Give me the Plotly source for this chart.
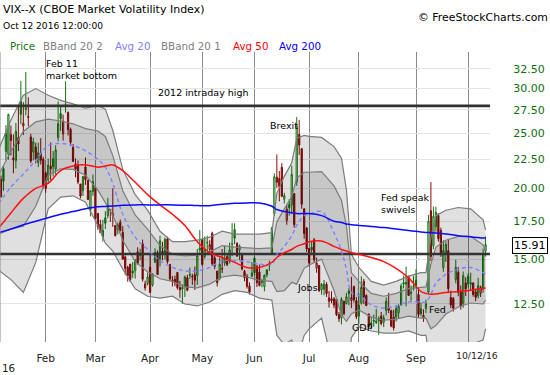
import math
import plotly.graph_objects as go

# ---------------- data (trading-day index 0 = Jan 4 2016 ... 196 = Oct 12 2016) -------------
prev_close_before = 18.21

opens = [
    22.48, 20.75, 21.67, 23.22, 22.96, 24.88, 22.63, 22.38, 24.58, 28.49, 25.76, 27.72, 26.79, 24.65, 23.18, 23.66, 22.23, 23.07, 22.51,
    21.28, 20.68, 21.88, 22.56, 21.63, 24.59, 27.12, 24.95, 28.13, 27.22, 25.43, 23.63, 22.09, 21.93, 20.35, 19.81, 21.81, 20.67, 18.35, 19.74,
    20.08, 18.06, 17.27, 16.42, 17.74, 17.90, 18.31, 17.90, 17.19, 17.24, 17.41, 16.72, 15.14, 14.51, 14.70, 14.29, 14.31, 15.45, 15.30, 15.96, 13.34, 13.58,
    14.52, 13.50, 14.81, 15.41, 15.00, 15.49, 15.30, 16.28, 14.68, 13.77, 13.82, 14.21, 13.36, 13.38, 13.44, 13.90, 14.05, 13.99, 14.08, 14.04, 15.55,
    16.25, 15.15, 16.03, 15.61, 16.67, 15.08, 14.29, 13.85, 14.43, 14.76, 15.15, 14.97, 15.94, 16.92, 15.98, 15.57, 15.27, 14.27, 13.98, 13.44, 14.00,
    15.06, 14.54, 14.24, 13.75, 13.42, 14.35, 14.72, 15.29, 18.05, 20.93, 20.83, 21.79, 19.13, 17.55, 18.73, 18.71, 19.58, 20.54, 24.90, 23.50, 18.41, 17.02,
    15.67, 15.74, 16.23, 14.46, 14.62, 13.25, 13.26, 13.54, 12.63, 12.77, 12.77, 12.75, 11.97, 11.83, 12.64, 12.53, 13.18, 12.68, 13.41, 12.67,
    11.90, 12.55, 13.70, 12.94, 12.00, 11.58, 11.70, 11.59, 11.77, 11.90, 11.61, 12.17, 12.30, 12.16, 11.85, 11.86, 12.06, 12.47, 13.55, 13.56, 13.97, 13.04, 13.36,
    13.77, 12.99, 12.26, 11.79, 12.27, 13.12, 18.26, 15.85, 17.11, 17.91, 16.86, 14.49, 15.39, 15.52, 12.83, 12.79, 13.80, 14.22, 13.17, 12.54, 13.61,
    14.01, 13.54, 13.61, 13.13, 12.92, 13.06, 13.27, 15.49]

highs = [
    23.36, 21.06, 21.86, 25.86, 27.08, 25.82, 24.90, 26.08, 27.85, 30.95, 28.39, 32.09, 28.96, 24.95, 24.56, 24.08, 24.09, 24.52, 22.73,
    21.42, 22.56, 24.11, 23.27, 23.83, 28.48, 28.00, 26.99, 30.90, 27.34, 25.60, 23.95, 22.59, 22.40, 20.36, 21.03, 22.69, 20.72, 19.83, 21.15,
    20.14, 18.06, 17.60, 17.60, 18.22, 19.24, 18.34, 20.00, 17.24, 17.39, 17.62, 17.14, 15.22, 14.60, 14.70, 14.83, 14.99, 15.74, 15.64, 16.24, 13.74, 14.20,
    15.33, 14.15, 15.67, 15.54, 16.49, 16.09, 16.37, 16.43, 14.69, 14.00, 14.03, 14.24, 13.73, 13.54, 14.03, 14.07, 14.49, 14.14, 14.55, 15.63, 16.88,
    16.25, 16.45, 16.50, 16.20, 16.77, 15.20, 14.29, 15.11, 15.63, 15.82, 15.27, 16.04, 17.36, 17.35, 16.07, 15.91, 15.30, 14.36, 14.12, 13.64, 14.82,
    15.19, 14.66, 14.67, 13.82, 14.09, 14.40, 14.91, 17.11, 21.25, 22.95, 21.46, 22.16, 19.64, 18.70, 19.15, 21.94, 19.59, 26.72, 26.42, 23.56, 18.42, 17.09,
    15.69, 16.16, 16.34, 15.09, 14.62, 13.61, 13.78, 13.66, 13.17, 13.16, 12.86, 12.76, 12.10, 12.85, 12.66, 13.07, 13.33, 13.96, 13.47, 12.86,
    13.06, 13.98, 13.84, 13.00, 12.02, 11.87, 11.97, 12.25, 11.88, 12.10, 11.96, 12.84, 13.08, 12.22, 12.21, 12.39, 12.49, 13.58, 14.03, 14.55, 14.03, 13.48, 14.00,
    14.40, 13.35, 12.57, 12.23, 12.72, 17.95, 20.51, 18.57, 18.56, 18.09, 17.05, 16.20, 16.12, 16.29, 13.20, 12.86, 14.96, 14.53, 13.48, 14.26, 13.93,
    14.17, 14.20, 13.66, 13.27, 13.90, 13.47, 15.65, 16.45]

lows = [
    20.67, 19.25, 19.80, 22.40, 22.48, 22.86, 21.26, 21.68, 23.27, 25.96, 24.84, 26.89, 25.73, 22.16, 22.41, 22.14, 21.81, 22.04, 19.97,
    19.64, 20.40, 20.68, 20.99, 21.14, 24.21, 25.25, 24.28, 27.19, 24.80, 23.75, 22.25, 20.92, 20.35, 19.20, 19.40, 20.28, 19.07, 17.84, 19.41,
    17.65, 16.89, 16.69, 16.11, 16.96, 17.71, 17.44, 17.10, 16.45, 16.59, 16.79, 14.99, 14.07, 13.68, 13.67, 13.90, 13.86, 14.66, 14.93, 13.69, 13.20, 13.48,
    13.10, 13.41, 14.78, 14.09, 14.56, 14.93, 14.98, 14.72, 13.76, 13.42, 13.44, 13.25, 12.82, 12.50, 12.86, 13.16, 13.84, 13.51, 13.23, 13.52, 15.29,
    14.60, 15.03, 15.50, 15.25, 14.60, 14.40, 13.42, 13.76, 14.17, 14.59, 14.58, 14.74, 15.18, 15.94, 15.13, 14.95, 14.33, 13.71, 13.31, 12.99, 13.93,
    14.04, 13.39, 13.43, 13.38, 13.16, 13.93, 14.30, 15.25, 17.87, 20.04, 18.97, 19.30, 18.80, 17.25, 17.90, 18.06, 17.04, 20.21, 22.91, 18.41, 16.29, 15.44,
    14.54, 15.24, 14.79, 14.19, 13.12, 12.98, 12.95, 12.86, 12.32, 12.54, 12.29, 11.90, 11.62, 11.50, 11.94, 12.47, 12.43, 12.29, 12.58, 11.75,
    11.54, 12.47, 12.49, 12.39, 11.32, 11.28, 11.40, 11.52, 11.02, 11.46, 11.38, 11.94, 12.05, 11.37, 11.22, 11.64, 11.79, 12.40, 13.31, 12.38, 12.91, 12.67, 13.20,
    13.35, 11.84, 11.90, 11.62, 12.04, 13.03, 14.88, 15.62, 16.77, 16.11, 15.14, 14.25, 14.83, 13.13, 12.29, 12.12, 13.59, 12.90, 12.22, 12.31, 12.91,
    13.37, 13.20, 12.88, 12.64, 12.79, 12.86, 13.09, 15.16]

closes = [
    20.70, 19.34, 20.59, 24.99, 27.01, 24.30, 22.47, 25.22, 23.95, 27.02, 26.05, 27.59, 26.69, 22.34, 24.15, 22.50, 23.11, 22.42, 20.20,
    19.98, 21.98, 21.65, 21.84, 23.38, 26.00, 26.54, 26.29, 28.14, 25.40, 24.11, 22.31, 21.64, 20.53, 19.38, 20.98, 20.72, 19.11, 19.81, 20.55,
    17.70, 17.09, 16.70, 16.86, 17.35, 18.67, 18.34, 18.05, 16.50, 16.92, 16.84, 14.99, 14.44, 14.02, 13.79, 14.17, 14.94, 14.74, 15.24, 13.82, 13.56, 13.95,
    13.10, 14.12, 15.42, 14.09, 16.16, 15.36, 16.26, 14.85, 13.84, 13.72, 13.62, 13.35, 13.24, 13.28, 13.95, 13.22, 14.08, 13.96, 13.77, 15.22, 15.70,
    14.68, 15.60, 16.05, 15.91, 14.72, 14.57, 13.63, 14.69, 14.41, 15.04, 14.68, 15.57, 15.95, 16.33, 15.20, 15.82, 14.42, 13.90, 13.43, 13.12, 14.19,
    14.20, 13.63, 13.47, 13.65, 14.05, 14.08, 14.64, 17.03, 20.97, 20.50, 20.14, 19.37, 19.41, 18.37, 18.48, 21.17, 17.25, 25.76, 23.85, 18.75, 16.64, 15.63,
    14.77, 15.58, 14.96, 14.76, 13.20, 13.54, 13.55, 13.04, 12.82, 12.67, 12.44, 11.97, 11.77, 12.74, 12.02, 12.87, 13.05, 12.83, 12.72, 11.87,
    12.44, 13.37, 12.86, 12.42, 11.39, 11.50, 11.66, 11.66, 11.68, 11.55, 11.81, 12.64, 12.19, 11.43, 11.34, 12.27, 12.38, 13.45, 13.63, 13.65, 12.94, 13.12, 13.42,
    13.48, 11.98, 12.02, 11.94, 12.51, 17.50, 15.16, 17.85, 18.14, 16.30, 15.37, 15.53, 15.92, 13.30, 12.45, 12.29, 14.50, 13.10, 12.39, 14.02, 13.29,
    13.57, 13.63, 12.99, 12.84, 13.48, 13.38, 15.36, 15.91]

month_tick_idx = [19, 39, 61, 82, 103, 125, 145, 168, 189]
month_tick_text = ["Feb", "Mar", "Apr", "May", "Jun", "Jul", "Aug", "Sep", ""]

# indicator lines at sample trading days
band_idx = [0, 5, 10, 15, 20, 25, 30, 35, 40, 43, 46, 50, 55, 60, 65, 70, 75, 80, 85, 90, 95, 100, 105, 110, 112, 115,
            118, 120, 123, 125, 130, 135, 138, 140, 142, 145, 150, 155, 160, 165, 170, 172, 174, 176, 180, 185, 190, 195, 196]
bband2_upper = [23.4, 26.4, 29.2, 30.0, 29.2, 28.6, 28.2, 27.7, 28.0, 27.6, 25.3, 21.6, 19.5, 18.3, 16.8, 16.1, 16.1, 16.2, 16.4, 16.8,
                16.6, 16.6, 16.6, 16.7, 19.6, 21.0, 22.2, 24.5, 24.8, 24.7, 24.6, 23.7, 22.6, 19.9, 15.3, 14.5, 13.7, 13.5, 13.7, 14.0,
                14.2, 14.2, 16.4, 17.9, 18.3, 18.5, 18.4, 17.6, 16.9]
bband1_upper = [21.1, 23.25, 25.2, 26.2, 26.5, 26.3, 26.0, 25.5, 25.25, 24.7, 22.85, 19.8, 17.95, 16.95, 15.85, 15.3, 15.2, 15.25, 15.45, 15.85,
                15.75, 15.7, 15.65, 15.7, 17.45, 18.4, 19.35, 20.85, 21.35, 21.35, 21.4, 20.2, 19.05, 17.15, 14.2, 13.7, 13.05, 12.9, 13.05, 13.3,
                13.4, 13.4, 14.7, 15.75, 16.2, 16.45, 16.45, 15.9, 15.5]
avg20 = [18.8, 20.1, 21.2, 22.4, 23.8, 24.0, 23.8, 23.3, 22.5, 21.8, 20.4, 18.0, 16.4, 15.6, 14.9, 14.5, 14.3, 14.3, 14.5, 14.9,
         14.9, 14.85, 14.7, 14.7, 15.3, 15.8, 16.5, 17.2, 17.9, 18.0, 18.2, 16.7, 15.5, 14.4, 13.1, 12.95, 12.45, 12.3, 12.4, 12.6,
         12.6, 12.6, 13.0, 13.6, 14.1, 14.4, 14.5, 14.2, 14.1]
bband1_lower = [16.6, 16.95, 17.15, 18.6, 21.1, 21.65, 21.6, 21.1, 19.85, 18.9, 17.95, 16.2, 14.85, 14.25, 13.85, 13.7, 13.4, 13.35, 13.55, 13.95,
                14.05, 13.95, 13.75, 13.7, 13.15, 13.2, 13.65, 13.55, 14.45, 14.65, 15.0, 13.2, 11.95, 11.65, 12.0, 12.2, 11.85, 11.7, 11.75, 11.9,
                11.8, 11.8, 11.3, 11.45, 12.0, 12.35, 12.55, 12.5, 12.7]
bband2_lower = [14.35, 13.8, 13.1, 14.8, 18.4, 19.3, 19.4, 18.9, 17.2, 16.0, 15.5, 14.4, 13.3, 12.9, 12.8, 12.9, 12.5, 12.4, 12.6, 13.0,
                13.2, 13.1, 12.8, 12.7, 11.0, 10.6, 10.8, 9.9, 11.0, 11.3, 11.8, 9.7, 8.4, 8.9, 10.9, 11.4, 11.2, 11.1, 11.1, 11.2,
                11.0, 11.0, 9.6, 9.3, 9.9, 10.3, 10.6, 10.8, 11.3]
avg50 = [17.0, 18.1, 19.2, 20.0, 20.4, 21.5, 21.9, 22.0, 21.8, 21.9, 22.0, 21.5, 20.5, 19.5, 18.7, 18.0, 17.2, 16.1, 15.4, 15.1,
         14.8, 14.5, 14.5, 14.8, 15.1, 15.4, 15.6, 15.8, 15.97, 16.1, 16.15, 15.8, 15.6, 15.5, 15.4, 15.3, 15.1, 14.85, 14.45, 13.9,
         13.15, 13.05, 13.0, 13.02, 13.1, 13.15, 13.22, 13.32, 13.34]
avg200 = [16.7, 16.95, 17.25, 17.5, 17.75, 18.0, 18.2, 18.4, 18.55, 18.58, 18.62, 18.68, 18.7, 18.7, 18.7, 18.7, 18.68, 18.65, 18.64, 18.75,
          18.82, 18.85, 18.85, 18.6, 18.35, 18.2, 18.1, 18.05, 18.05, 18.05, 17.9, 17.5, 17.4, 17.3, 17.25, 17.2, 17.13, 17.05, 16.95, 16.85,
          16.75, 16.72, 16.7, 16.68, 16.62, 16.5, 16.42, 16.35, 16.35]

level_2012_high = 27.96
level_support = 15.32

y_tick_vals = [12.5, 15, 17.5, 20, 22.5, 25, 27.5, 30, 32.5]
y_tick_text = ["12.50", "15.00", "17.50", "20.00", "22.50", "25.00", "27.50", "30.00", "32.50"]
last_price_text = "15.91"
last_date_text = "10/12/16"
year_text = "16"

# ---------------- styling / geometry ----------------
FONT = "DejaVu Sans"
GREEN = "#127812"
RED = "#8b0a0a"
BAND_LINE = "#7c7c7c"
PLOT_W, PLOT_TOP, PLOT_BOTTOM = 490.0, 52.0, 342.0
X_RANGE = [0.61, 197.77]
Y_RANGE = [math.log10(10.71), math.log10(34.81)]


def px(xp):
    return xp / PLOT_W


def py(yp):
    return (PLOT_BOTTOM - yp) / (PLOT_BOTTOM - PLOT_TOP)


fig = go.Figure()

x_all = list(range(len(closes)))

# Bollinger band fills
fig.add_trace(go.Scatter(x=band_idx, y=bband2_upper, mode="lines",
                         line=dict(color=BAND_LINE, width=1.2), hoverinfo="skip"))
fig.add_trace(go.Scatter(x=band_idx, y=bband2_lower, mode="lines", fill="tonexty",
                         fillcolor="rgba(0,0,0,0.12)",
                         line=dict(color=BAND_LINE, width=1.2), hoverinfo="skip"))
fig.add_trace(go.Scatter(x=band_idx, y=bband1_upper, mode="lines",
                         line=dict(color=BAND_LINE, width=1.2), hoverinfo="skip"))
fig.add_trace(go.Scatter(x=band_idx, y=bband1_lower, mode="lines", fill="tonexty",
                         fillcolor="rgba(0,0,0,0.11)",
                         line=dict(color=BAND_LINE, width=1.2), hoverinfo="skip"))

# horizontal reference levels
for lvl in (level_2012_high, level_support):
    fig.add_trace(go.Scatter(x=X_RANGE, y=[lvl, lvl], mode="lines",
                             line=dict(color="#333333", width=2.6), hoverinfo="skip"))

# candles: hollow when close > open, colour by change vs previous close
groups = {}
for i in x_all:
    prev = closes[i - 1] if i > 0 else prev_close_before
    colour = GREEN if closes[i] >= prev else RED
    hollow = closes[i] > opens[i]
    groups.setdefault((colour, hollow), []).append(i)

for (colour, hollow), idxs in groups.items():
    fill = "rgba(0,0,0,0)" if hollow else colour
    style = dict(line=dict(color=colour, width=1), fillcolor=fill)
    fig.add_trace(go.Candlestick(
        x=idxs,
        open=[opens[i] for i in idxs], high=[highs[i] for i in idxs],
        low=[lows[i] for i in idxs], close=[closes[i] for i in idxs],
        increasing=style, decreasing=style, whiskerwidth=0, hoverinfo="skip"))

# moving averages
fig.add_trace(go.Scatter(x=band_idx, y=avg20, mode="lines", line_shape="spline",
                         line=dict(color="#8080ff", width=1.4, dash="4px,3px"), hoverinfo="skip"))
fig.add_trace(go.Scatter(x=band_idx, y=avg50, mode="lines", line_shape="spline",
                         line=dict(color="#ff1010", width=1.5), hoverinfo="skip"))
fig.add_trace(go.Scatter(x=band_idx, y=avg200, mode="lines", line_shape="spline",
                         line=dict(color="#0a0aff", width=1.5), hoverinfo="skip"))

ann = []


def text(t, x, y, size, color="#000000", xanchor="left"):
    ann.append(dict(text=t, x=px(x), y=py(y), xref="paper", yref="paper",
                    xanchor=xanchor, yanchor="middle", align="left", showarrow=False,
                    font=dict(family=FONT, size=size, color=color)))


# header
text("VIX--X (CBOE Market Volatility Index)", 1, 10, 11.0)
text("Oct 12 2016 12:00:00", 1, 26, 9.1)
text("\u00a9 FreeStockCharts.com", 416, 17.5, 10.9)
legend_items = [("Price", 8, GREEN), ("BBand 20 2", 41, "#808080"), ("Avg 20", 113, "#8080ff"),
                ("BBand 20 1", 159, "#808080"), ("Avg 50", 231, "#ff0000"), ("Avg 200", 277, "#0000ff")]
for t, x, c in legend_items:
    text(t, x, 45.5, 10.3, c)

# chart notes
text("Feb 11<br>market bottom", 44, 69, 9.5)
text("2012 intraday high", 156, 93, 9.5)
text("Brexit", 268, 126, 9.5)
text("Fed speak<br>swivels", 379, 204, 9.5)
text("Jobs", 295, 287, 9.5)
text("GDP", 350, 327, 9.5)
text("Fed", 427, 309, 9.5)

# bottom labels
text(last_date_text, 477, 355, 9.3, "#222222", xanchor="center")
text(year_text, 0, 368, 10.3, "#222222")

# last-price box
ann.append(dict(text=last_price_text, x=px(529.5), y=py(245.5), xref="paper", yref="paper",
                xanchor="center", yanchor="middle", showarrow=False,
                font=dict(family=FONT, size=11, color="#000000"),
                bgcolor="white", bordercolor="#000000", borderwidth=1, borderpad=1))

fig.update_layout(
    width=550, height=375,
    margin=dict(l=0, r=60, t=52, b=33),
    paper_bgcolor="white", plot_bgcolor="white",
    showlegend=False, annotations=ann,
    font=dict(family=FONT),
    shapes=[dict(type="line", xref="paper", yref="paper", x0=0, x1=0, y0=0, y1=1,
                 line=dict(color="#8a8a8a", width=1))],
)
fig.update_xaxes(range=X_RANGE, tickvals=month_tick_idx, ticktext=month_tick_text,
                 showgrid=True, gridcolor="#8a8a8a", gridwidth=1, zeroline=False,
                 showline=False, ticks="outside", ticklen=6, tickcolor="rgba(0,0,0,0)",
                 tickfont=dict(family=FONT, size=10.5, color="#222222"),
                 rangeslider_visible=False, fixedrange=True)
fig.update_yaxes(type="log", range=Y_RANGE, side="right", tickvals=y_tick_vals, ticktext=y_tick_text,
                 showgrid=True, gridcolor="#e4e4e4", gridwidth=1, zeroline=False, showline=False,
                 ticks="outside", ticklen=20, tickcolor="rgba(0,0,0,0)",
                 tickfont=dict(family=FONT, size=11, color="#0f6e0f"), fixedrange=True)

fig.write_html("out.html", config={"displayModeBar": False},
               post_script="document.body.style.margin='0';")
